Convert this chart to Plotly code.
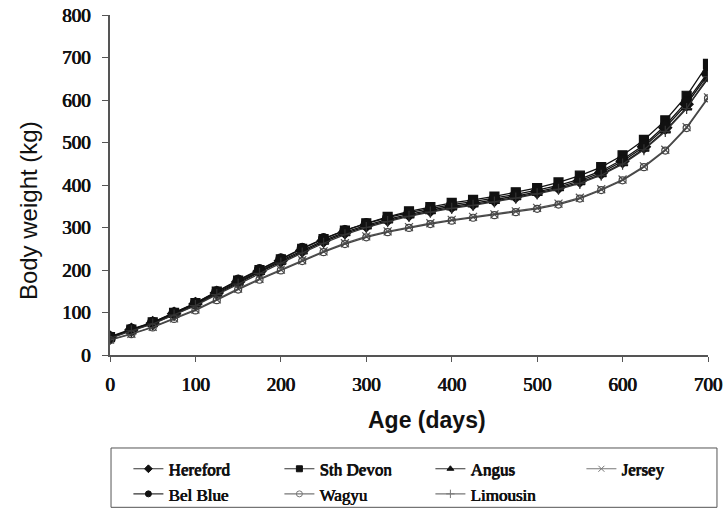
import plotly.graph_objects as go

age = [0, 25, 50, 75, 100, 125, 150, 175, 200, 225, 250, 275, 300, 325, 350,
       375, 400, 425, 450, 475, 500, 525, 550, 575, 600, 625, 650, 675, 700]

hereford = [41, 59, 75, 97, 120, 146, 172, 197, 222, 246, 269, 289, 305, 319, 331,
            341, 350, 357, 365, 374, 384, 395, 410, 429, 456, 490, 535, 590, 660]
sth_devon = [42, 60, 77, 99, 122, 149, 175, 200, 225, 250, 273, 293, 310, 325, 338,
             348, 358, 365, 373, 383, 393, 406, 422, 442, 470, 506, 552, 610, 685]
angus = [40, 58, 74, 95, 118, 144, 170, 195, 219, 243, 266, 286, 302, 316, 328,
         338, 347, 354, 362, 371, 381, 392, 406, 425, 451, 485, 528, 582, 650]
jersey = [36, 50, 66, 86, 107, 131, 156, 179, 201, 223, 244, 263, 279, 291, 301,
          310, 318, 325, 331, 338, 346, 356, 370, 390, 413, 444, 483, 536, 606]
bel_blue = [43, 61, 77, 99, 122, 149, 176, 201, 226, 251, 274, 293, 309, 323, 335,
            345, 354, 361, 369, 378, 388, 399, 414, 433, 460, 494, 540, 596, 665]
wagyu = [35, 49, 65, 85, 105, 129, 154, 177, 199, 221, 242, 261, 277, 289, 299,
         308, 316, 323, 329, 336, 344, 354, 368, 388, 411, 442, 481, 534, 604]
limousin = [39, 57, 73, 94, 116, 142, 167, 192, 216, 240, 263, 283, 300, 314, 326,
            336, 345, 352, 360, 369, 379, 390, 404, 423, 449, 483, 526, 580, 655]

x_ticks = [0, 100, 200, 300, 400, 500, 600, 700]
y_ticks = [0, 100, 200, 300, 400, 500, 600, 700, 800]

series = [
    ("Hereford", hereford, "diamond", 10, "#111111"),
    ("Sth Devon", sth_devon, "square", 9, "#111111"),
    ("Angus", angus, "triangle-up", 9, "#111111"),
    ("Jersey", jersey, "x-thin-open", 8, "#555555"),
    ("Bel Blue", bel_blue, "circle", 10, "#111111"),
    ("Wagyu", wagyu, "circle-open", 7, "#444444"),
    ("Limousin", limousin, "cross-thin-open", 8, "#333333"),
]

fig = go.Figure()
# data traces
for name, vals, sym, size, col in series:
    fig.add_trace(go.Scatter(
        x=age, y=vals, name=name, mode="lines+markers", showlegend=False,
        line=dict(color=col, width=1.3),
        marker=dict(symbol=sym, size=size, color=col,
                    line=dict(color=col, width=1.2)),
    ))
# legend entries (small symbols, as in the reference legend)
for name, vals, sym, size, col in series:
    lc = "#111111" if col == "#111111" else "#777777"
    fig.add_trace(go.Scatter(
        x=[None], y=[None], name=name, mode="lines+markers",
        line=dict(color="#333333" if col == "#111111" else "#777777", width=1.2),
        marker=dict(symbol=sym, size=6, color=lc, line=dict(color=lc, width=1)),
    ))

# serif text made heavier with a thin text shadow
heavy = "0.7px 0 0 #111111, 0 0.3px 0 #111111"
tickfont = dict(family="Liberation Serif", size=19, color="#111111", shadow=heavy)
fig.update_layout(
    width=726, height=510,
    margin=dict(l=110, r=18, t=15, b=155, autoexpand=False),
    plot_bgcolor="white", paper_bgcolor="white",
    showlegend=True,
    legend=dict(
        orientation="h", x=-0.001, xanchor="left", y=-0.283, yanchor="top",
        borderwidth=0, bgcolor="rgba(0,0,0,0)",
        font=dict(family="Liberation Serif", size=17, color="#111111", shadow=heavy),
        entrywidth=106, entrywidthmode="pixels",
        tracegroupgap=0,
        title=dict(text="&nbsp;&nbsp;&nbsp;", side="left",
                   font=dict(family="Liberation Serif", size=12)),
    ),
    shapes=[dict(type="rect", xref="paper", yref="paper",
                 x0=0.0017, x1=1.015, y0=-0.448, y1=-0.2735,
                 line=dict(color="#555555", width=1), fillcolor="rgba(0,0,0,0)")],
    xaxis=dict(
        range=[0, 700], tickvals=x_ticks,
        showline=True, linecolor="#555555", linewidth=1.5,
        ticks="outside", ticklen=5, tickcolor="#555555",
        showgrid=False, zeroline=False,
        tickfont=tickfont, ticklabelstandoff=6,
    ),
    yaxis=dict(
        range=[0, 800], tickvals=y_ticks,
        showline=True, linecolor="#555555", linewidth=1.5,
        ticks="outside", ticklen=6, tickcolor="#555555",
        showgrid=False, zeroline=False,
        tickfont=tickfont, ticklabelstandoff=8,
    ),
    annotations=[
        dict(text="<b>Age (days)</b>", xref="paper", yref="paper",
             x=0.530, y=-0.191, xanchor="center", yanchor="middle",
             showarrow=False,
             font=dict(family="Liberation Sans", size=23, color="#111111")),
        dict(text="Body weight (kg)", xref="paper", yref="paper",
             x=-0.137, y=0.4235, xanchor="center", yanchor="middle",
             textangle=-90, showarrow=False,
             font=dict(family="Liberation Sans", size=24, color="#111111")),
    ],
)

fig.write_html("out.html")
